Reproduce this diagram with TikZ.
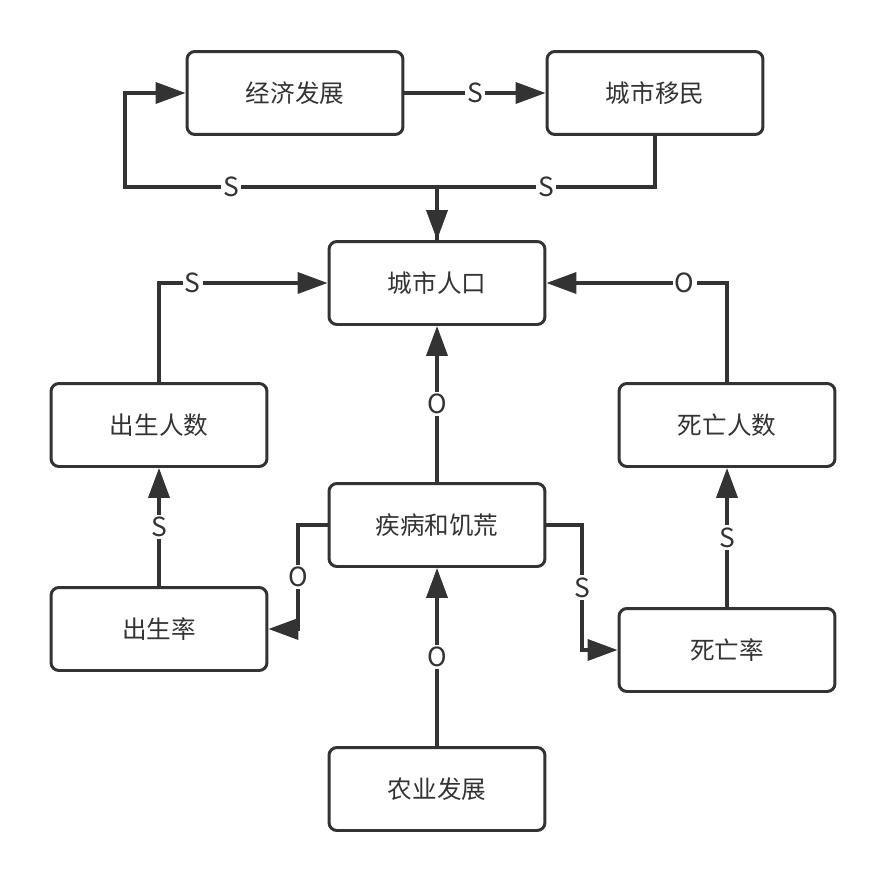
\documentclass[tikz,border=0pt]{standalone}
\usepackage{fontspec}
\setmainfont{Noto Sans CJK SC}
\usepackage{xcolor}
\usetikzlibrary{arrows.meta,positioning,calc}
\definecolor{dk}{HTML}{333333}
\tikzset{
  box/.style={rectangle,draw=dk,line width=1.7pt,rounded corners=4.5pt,minimum width=4.32cm,minimum height=1.66cm,inner sep=1pt,text=dk,font=\fontsize{14}{16}\selectfont},
  lab/.style={fill=white,text=dk,inner sep=1.2pt,font=\fontsize{15}{16}\selectfont},
  link/.style={draw=dk,line width=1.9pt,-{Triangle[length=17pt,width=12pt]}},
}
\begin{document}
\begin{tikzpicture}[x=0.02cm,y=-0.02cm]
  \useasboundingbox (0,0) rectangle (886,882);
  \node[box] (jj) at (295,93) {经济发展};
  \node[box] (ym) at (655,93) {城市移民};
  \node[box] (rk) at (437,283) {城市人口};
  \node[box] (cs) at (159,425) {出生人数};
  \node[box] (sw) at (727,425) {死亡人数};
  \node[box] (jb) at (437,525) {疾病和饥荒};
  \node[box] (csl) at (159,629) {出生率};
  \node[box] (swl) at (727,650) {死亡率};
  \node[box] (ny) at (437,789) {农业发展};
  \coordinate (hub) at (437,187);
  \coordinate (lft) at (125,187);
  \coordinate (bendl) at (298,525);
  \coordinate (bendr) at (582,525);
  \draw[link] (jj) -- node[lab] (s1) {S} (ym);
  \draw[link,rounded corners=0pt] (rk.north) -- (hub) -- node[lab,pos=0.66] (s2) {S} (lft) |- (jj.west);
  \draw[link] (ym.south) |- node[lab,pos=0.75] (s3) {S} (hub) -- (rk.north);
  \draw[link] (cs.north) |- node[lab,pos=0.6] (s4) {S} (rk.west);
  \draw[link] (sw.north) |- node[lab,pos=0.617] (o1) {O} (rk.east);
  \draw[link] (jb) -- node[lab] (o2) {O} (rk);
  \draw[link] (csl) -- node[lab] (s5) {S} (cs);
  \draw[link] (jb.west) -- (bendl) -- node[lab] (o3) {O} (bendl |- csl.east) -- (csl.east);
  \draw[link] (jb.east) -- (bendr) -- node[lab] (s6) {S} (bendr |- swl.west) -- (swl.west);
  \draw[link] (swl) -- node[lab] (s7) {S} (sw);
  \draw[link] (ny) -- node[lab] (o4) {O} (jb);
\end{tikzpicture}
\end{document}
